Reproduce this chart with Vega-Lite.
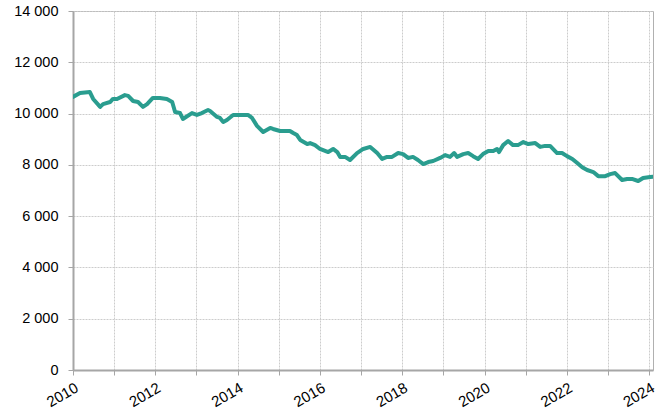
{
  "$schema": "https://vega.github.io/schema/vega-lite/v6.json",
  "width": 580,
  "height": 359,
  "autosize": {"type": "none"},
  "padding": {"left": 73, "top": 11, "right": 4, "bottom": 42},
  "background": "white",
  "config": {
    "view": {"stroke": "#b0b0b0", "strokeWidth": 1},
    "axis": {
      "labelFont": "Liberation Sans",
      "labelFontSize": 14.5,
      "labelColor": "#000000",
      "domainColor": "#a6a6a6",
      "domainWidth": 2,
      "tickColor": "#a6a6a6",
      "tickWidth": 1,
      "tickSize": 5,
      "gridColor": "#cccccc",
      "gridDash": [2, 1],
      "gridWidth": 1,
      "title": null
    }
  },
  "data": {
    "values": [
      {"t": 2010.00, "v": 10650}, {"t": 2010.17, "v": 10800}, {"t": 2010.41, "v": 10840}, {"t": 2010.49, "v": 10570},
      {"t": 2010.66, "v": 10260}, {"t": 2010.73, "v": 10370}, {"t": 2010.90, "v": 10450}, {"t": 2010.97, "v": 10570},
      {"t": 2011.07, "v": 10570}, {"t": 2011.26, "v": 10720}, {"t": 2011.34, "v": 10690}, {"t": 2011.46, "v": 10490},
      {"t": 2011.58, "v": 10450}, {"t": 2011.70, "v": 10260}, {"t": 2011.80, "v": 10370}, {"t": 2011.94, "v": 10610},
      {"t": 2012.11, "v": 10610}, {"t": 2012.28, "v": 10570}, {"t": 2012.41, "v": 10450}, {"t": 2012.48, "v": 10060},
      {"t": 2012.60, "v": 10020}, {"t": 2012.67, "v": 9790}, {"t": 2012.89, "v": 10020}, {"t": 2013.01, "v": 9945},
      {"t": 2013.13, "v": 10020}, {"t": 2013.28, "v": 10140}, {"t": 2013.33, "v": 10100}, {"t": 2013.50, "v": 9870},
      {"t": 2013.57, "v": 9830}, {"t": 2013.65, "v": 9670}, {"t": 2013.74, "v": 9750}, {"t": 2013.89, "v": 9945},
      {"t": 2014.06, "v": 9945}, {"t": 2014.25, "v": 9945}, {"t": 2014.35, "v": 9830}, {"t": 2014.47, "v": 9520},
      {"t": 2014.62, "v": 9280}, {"t": 2014.79, "v": 9440}, {"t": 2014.86, "v": 9400}, {"t": 2015.03, "v": 9320},
      {"t": 2015.20, "v": 9320}, {"t": 2015.27, "v": 9320}, {"t": 2015.35, "v": 9240}, {"t": 2015.44, "v": 9160},
      {"t": 2015.52, "v": 8970}, {"t": 2015.69, "v": 8810}, {"t": 2015.76, "v": 8850}, {"t": 2015.88, "v": 8770},
      {"t": 2016.00, "v": 8620}, {"t": 2016.20, "v": 8500}, {"t": 2016.32, "v": 8620}, {"t": 2016.42, "v": 8500},
      {"t": 2016.49, "v": 8310}, {"t": 2016.61, "v": 8310}, {"t": 2016.73, "v": 8190}, {"t": 2016.90, "v": 8460},
      {"t": 2017.05, "v": 8620}, {"t": 2017.22, "v": 8700}, {"t": 2017.39, "v": 8460}, {"t": 2017.51, "v": 8230},
      {"t": 2017.63, "v": 8310}, {"t": 2017.75, "v": 8310}, {"t": 2017.90, "v": 8460}, {"t": 2018.02, "v": 8420},
      {"t": 2018.14, "v": 8270}, {"t": 2018.26, "v": 8310}, {"t": 2018.38, "v": 8190}, {"t": 2018.51, "v": 8030},
      {"t": 2018.63, "v": 8110}, {"t": 2018.75, "v": 8150}, {"t": 2018.92, "v": 8270}, {"t": 2019.04, "v": 8380},
      {"t": 2019.16, "v": 8310}, {"t": 2019.26, "v": 8460}, {"t": 2019.33, "v": 8310}, {"t": 2019.48, "v": 8420},
      {"t": 2019.60, "v": 8460}, {"t": 2019.72, "v": 8340}, {"t": 2019.84, "v": 8230}, {"t": 2019.96, "v": 8420},
      {"t": 2020.09, "v": 8540}, {"t": 2020.21, "v": 8540}, {"t": 2020.30, "v": 8620}, {"t": 2020.35, "v": 8500},
      {"t": 2020.45, "v": 8770}, {"t": 2020.57, "v": 8930}, {"t": 2020.69, "v": 8770}, {"t": 2020.81, "v": 8770},
      {"t": 2020.94, "v": 8890}, {"t": 2021.06, "v": 8810}, {"t": 2021.23, "v": 8850}, {"t": 2021.35, "v": 8700},
      {"t": 2021.47, "v": 8740}, {"t": 2021.59, "v": 8740}, {"t": 2021.76, "v": 8460}, {"t": 2021.88, "v": 8460},
      {"t": 2022.00, "v": 8340}, {"t": 2022.13, "v": 8230}, {"t": 2022.25, "v": 8070}, {"t": 2022.37, "v": 7910},
      {"t": 2022.49, "v": 7800}, {"t": 2022.64, "v": 7720}, {"t": 2022.76, "v": 7560}, {"t": 2022.93, "v": 7560},
      {"t": 2023.05, "v": 7640}, {"t": 2023.17, "v": 7680}, {"t": 2023.34, "v": 7410}, {"t": 2023.46, "v": 7450},
      {"t": 2023.58, "v": 7450}, {"t": 2023.73, "v": 7370}, {"t": 2023.85, "v": 7490}, {"t": 2024.02, "v": 7530},
      {"t": 2024.09, "v": 7540}
    ]
  },
  "mark": {"type": "line", "color": "#2a9d8f", "strokeWidth": 4, "strokeJoin": "round", "strokeCap": "round", "clip": true},
  "encoding": {
    "x": {
      "field": "t",
      "type": "quantitative",
      "scale": {"domain": [2010, 2024.09], "nice": false, "zero": false},
      "axis": {
        "values": [2010, 2011, 2012, 2013, 2014, 2015, 2016, 2017, 2018, 2019, 2020, 2021, 2022, 2023, 2024],
        "labelExpr": "datum.value % 2 == 0 ? format(datum.value, 'd') : ''",
        "labelAngle": -30,
        "labelAlign": "right",
        "labelBaseline": "top",
        "labelPadding": 5,
        "labelFontSize": 15,
        "labelOverlap": false,
        "labelFlush": false,
        "labelBound": false
      }
    },
    "y": {
      "field": "v",
      "type": "quantitative",
      "scale": {"domain": [0, 14000], "nice": false},
      "axis": {
        "values": [0, 2000, 4000, 6000, 8000, 10000, 12000, 14000],
        "labelExpr": "replace(format(datum.value, ','), ',', ' ')",
        "labelPadding": 10,
        "labelFlush": false,
        "labelOverlap": false
      }
    }
  }
}
